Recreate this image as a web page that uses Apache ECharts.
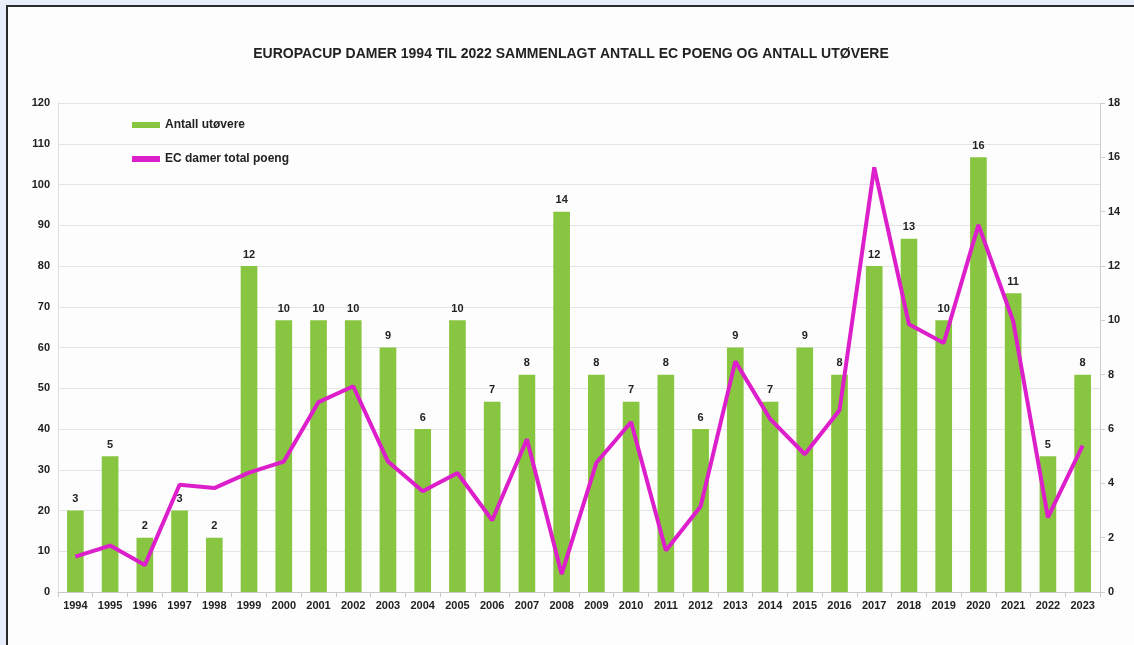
<!DOCTYPE html>
<html>
<head>
<meta charset="utf-8">
<script src="https://cdn.jsdelivr.net/npm/echarts@6/dist/echarts.min.js"></script>
<style>
html, body { margin: 0; padding: 0; background: #e9eefb; }
#frame {
	position: absolute; left: 6px; top: 5px; width: 1128px; height: 640px;
	background: #fdfdfd; border-left: 2px solid #2a2a2a; border-top: 2px solid #2a2a2a;
}
#main { width: 1126px; height: 638px; }
</style>
</head>
<body>
<div id="frame"><div id="main"></div></div>
<script>
var
// ----------------------------------------------------------------
/* 数据 */
years = ['1994','1995','1996','1997','1998','1999','2000','2001','2002','2003',
	'2004','2005','2006','2007','2008','2009','2010','2011','2012','2013',
	'2014','2015','2016','2017','2018','2019','2020','2021','2022','2023'],
// Antall utøvere (høyre akse)
utovere = [3, 5, 2, 3, 2, 12, 10, 10, 10, 9,
	6, 10, 7, 8, 14, 8, 7, 8, 6, 9,
	7, 9, 8, 12, 13, 10, 16, 11, 5, 8],
// EC damer total poeng (venstre akse)
poeng = [8.7, 11.4, 6.6, 26.3, 25.5, 29.3, 32, 46.6, 50.5, 32,
	24.7, 29.2, 17.6, 37.5, 4.4, 31.7, 41.7, 10.2, 21, 56.6,
	42.5, 33.8, 44.6, 104.2, 65.7, 61.1, 90.1, 66.5, 18.3, 35.9],
leftTicks = { min: 0, max: 120, interval: 10 },
rightTicks = { min: 0, max: 18, interval: 2 },

fontFam = 'Liberation Sans, Arial, sans-serif',
axisText = { color: '#222', fontSize: 11, fontWeight: 'bold', fontFamily: fontFam },

chart = echarts.init(document.getElementById('main'));

var option = {
	animation: false,
	title: {
		text: 'EUROPACUP DAMER 1994 TIL 2022 SAMMENLAGT ANTALL EC POENG OG ANTALL UTØVERE',
		left: 'center',
		top: 35,
		textStyle: { fontSize: 14, fontWeight: 'bold', color: '#222', fontFamily: fontFam }
	},
	legend: {
		orient: 'vertical',
		left: 119,
		top: 107,
		itemGap: 22,
		itemWidth: 28,
		itemHeight: 6,
		textStyle: { fontSize: 12, fontWeight: 'bold', color: '#222', fontFamily: fontFam },
		data: [
			{ name: 'Antall utøvere', icon: 'rect' },
			{ name: 'EC damer total poeng', icon: 'rect' }
		]
	},
	grid: { left: 50, right: 34, top: 96, bottom: 53 },
	xAxis: {
		type: 'category',
		data: years,
		axisLine: { lineStyle: { color: '#c8c8c8' } },
		axisTick: { show: true, lineStyle: { color: '#c8c8c8' } },
		axisLabel: axisText
	},
	yAxis: [{
		type: 'value',
		min: leftTicks.min, max: leftTicks.max, interval: leftTicks.interval,
		axisLine: { show: true, lineStyle: { color: '#dedede' } },
		axisTick: { show: false },
		splitLine: { lineStyle: { color: '#e4e4e4' } },
		axisLabel: axisText
	}, {
		type: 'value',
		position: 'right',
		min: rightTicks.min, max: rightTicks.max, interval: rightTicks.interval,
		axisLine: { show: true, lineStyle: { color: '#cfcfcf' } },
		axisTick: { show: true, lineStyle: { color: '#cfcfcf' } },
		splitLine: { show: false },
		axisLabel: axisText
	}],
	series: [{
		name: 'Antall utøvere',
		type: 'bar',
		yAxisIndex: 1,
		barWidth: '48%',
		itemStyle: { color: '#88c540' },
		label: {
			show: true, position: 'top', distance: 6,
			color: '#222', fontSize: 11, fontWeight: 'bold', fontFamily: fontFam
		},
		data: utovere
	}, {
		name: 'EC damer total poeng',
		type: 'line',
		yAxisIndex: 0,
		symbol: 'none',
		lineStyle: { color: '#dc1ecb', width: 4 },
		itemStyle: { color: '#dc1ecb' },
		data: poeng
	}]
};
chart.setOption(option);
</script>
</body>
</html>
